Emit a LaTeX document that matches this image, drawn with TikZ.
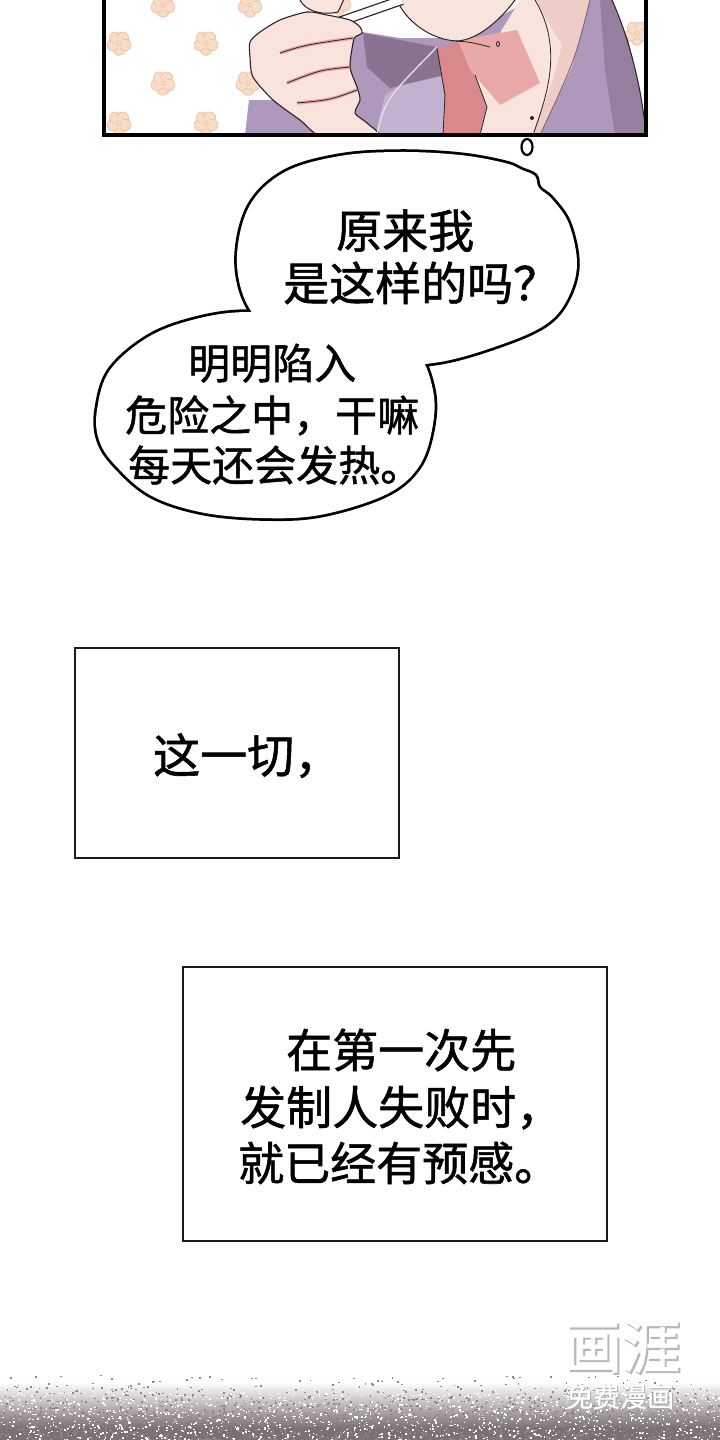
\documentclass[tikz,border=0pt]{standalone}
\usepackage{fontspec}
\newfontfamily\cjk[FakeBold=1.2]{Noto Sans CJK SC}
\newfontfamily\cjkplain[FakeBold=0.8]{Noto Sans CJK SC}
\newfontfamily\cjkfat[FakeBold=3]{Noto Sans CJK SC}
\definecolor{skin}{HTML}{F8E4DC}
\definecolor{skinsh}{HTML}{F0CCC6}
\definecolor{pinkc}{HTML}{D9898B}
\definecolor{pinkl}{HTML}{E9A9A8}
\definecolor{purm}{HTML}{AE98BC}
\definecolor{purd}{HTML}{8A7391}
\definecolor{purl}{HTML}{C3B2CF}
\definecolor{ink}{HTML}{2B2026}
\definecolor{petal}{HTML}{F7DCC8}
\definecolor{petaledge}{HTML}{EBBE9E}
\definecolor{noisegray}{HTML}{7A7075}
\tikzset{
  flowerpic/.pic={
    \foreach \a in {90,162,234,306,18} \filldraw[fill=petal,draw=petaledge,line width=0.6] (\a:6.5) circle (5.8);
    \fill[petal] (0,0) circle (5);
    \draw[petaledge,line width=0.6] (0,0) circle (2.2);
  },
  bubbleline/.style={line width=5.5, draw=black},
  txtbig/.style={anchor=base west, inner sep=0, font=\cjk\fontsize{46}{46}\selectfont},
  txtmid/.style={anchor=base west, inner sep=0, font=\cjk\fontsize{42}{42}\selectfont},
  boxst/.style={draw=black!90, line width=2, inner sep=0, fill=white},
}
\begin{document}
\begin{tikzpicture}[x=1pt,y=-1pt]
\useasboundingbox (0,0) rectangle (720,1440);
\fill[white] (0,0) rectangle (720,1440);

% ---------- top panel ----------
\begin{scope}
\clip (104,-5) rectangle (646,135);
\fill[white] (104,-5) rectangle (646,135);
\foreach \a/\b in {163/5,250/5,119/43,206/43,163/83,248/83,119/123,206/123,339/3,637/33}
  \pic at (\a,\b) {flowerpic};
% sleeve under hand
\fill[purm] (245,135) -- (249,100) -- (273,100) -- (300,120) -- (323,135) -- cycle;
% jacket
\fill[purm] (350,30) -- (400,38) -- (460,38) -- (530,0) -- (612,0) -- (628,40) -- (640,90) -- (646,135) -- (350,135) -- cycle;
\fill[purl] (375,135) -- (385,95) -- (440,60) -- (448,135) -- cycle;
\fill[purd] (363,33) -- (437,47) -- (453,73) -- (390,88) -- (367,67) -- cycle;
\fill[purd!70!purm] (600,0) -- (612,0) -- (628,40) -- (640,90) -- (646,135) -- (615,135) -- (605,70) -- cycle;
% shirt collar and neck
\fill[pinkc] (437,48) -- (460,42) -- (475,75) -- (487,107) -- (480,135) -- (443,135) -- (445,95) -- cycle;
\fill[skin] (460,42) -- (500,33) -- (520,0) -- (590,0) -- (565,60) -- (533,135) -- (480,135) -- (487,107) -- (475,75) -- cycle;
\fill[pinkl] (458,40) -- (517,30) -- (540,83) -- (500,105) -- (470,70) -- cycle;
\fill[skinsh] (535,0) -- (590,0) -- (572,67) -- (540,135) -- (533,135) -- (552,83) -- (562,45) -- cycle;
% chin
\filldraw[fill=skin, draw=ink, line width=1] (397,-3) -- (397,0) .. controls (405,20) and (430,40) .. (457,41) .. controls (480,40) and (505,15) .. (517,-3) -- cycle;
% straw
\draw[ink, line width=10] (330,25) -- (402,0);
\draw[white, line width=7.5] (330,25) -- (402,0);
% hand
\filldraw[fill=skin, draw=ink, line width=1.1] plot[smooth cycle, tension=0.45] coordinates {
  (250,42) (260,32) (280,20) (307,12) (327,15) (350,20) (360,27) (362,33) (355,37) (353,43)
  (350,67) (357,87) (360,100) (355,113) (367,123) (379,137) (323,137) (300,120) (273,100) (253,77) (250,57)};
\filldraw[fill=skin, draw=ink, line width=1] (300,-3) -- (300,0) .. controls (305,10) and (320,16) .. (338,12) -- (345,-3) -- cycle;
\foreach \c in {{(280,53) .. controls (305,45) .. (353,38)},
                {(287,83) .. controls (320,70) .. (350,67)},
                {(297,103) .. controls (330,100) .. (357,90)}} {
  \draw[pinkl, line width=3.5] \c;
  \draw[ink, line width=0.8] \c;
}
% lines
\draw[white!60!purl, line width=1.3] (377,135) .. controls (385,100) .. (437,47);
\draw[ink, line width=0.8] (437,48) -- (445,95) -- (443,135);
\draw[ink, line width=0.8] (475,75) -- (487,107) -- (480,135);
\draw[ink, line width=0.8] (455,41) .. controls (470,42) .. (490,47);
\draw[ink, line width=0.8] (498,44) ellipse (1.5 and 2.5);
\fill[ink] (532,118) circle (2);
\draw[ink, line width=0.8] (535,0) .. controls (565,50) and (545,100) .. (533,135);
\draw[ink!70, line width=0.8] (590,0) .. controls (575,60) .. (540,135);
\draw[ink, line width=1] (612,0) .. controls (630,40) and (642,90) .. (646,135);
\end{scope}
\draw[line width=3.4] (104,-10) rectangle (646,135);

% thought dot
\draw[line width=2.2] (527,147) ellipse (5.5 and 8);

% ---------- speech bubbles ----------
\def\topbub{plot[smooth cycle, tension=0.6] coordinates {
  (237,255) (250,205) (285,172) (340,156) (400,152) (460,155) (505,163) (522,170)
  (535,176) (539,188) (552,199) (569,224) (577,265) (567,300) (545,325) (500,345)
  (440,362) (380,365) (320,355) (270,330) (245,300)}}
\def\botbub{plot[smooth cycle, tension=0.6] coordinates {
  (97,410) (110,370) (150,336) (200,318) (250,312) (310,318) (370,332) (415,350)
  (433,390) (432,430) (418,468) (385,495) (320,515) (260,518) (200,512) (150,495)
  (115,465) (99,440)}}
\draw[bubbleline] \topbub;
\draw[bubbleline] \botbub;
\fill[white] \topbub;
\fill[white] \botbub;

\node[txtbig] (q1) at (336,248) {原来我};
\node[txtbig] (q2) at (283,300.5) {是这样的吗？};
\node[txtmid] (p1) at (188,379) {明明陷入};
\node[txtmid] (p2) at (125,431) {危险之中，干嘛};
\node[txtmid] (p3) at (128,481) {每天还会发热。};

% ---------- caption boxes ----------
\node[boxst, minimum width=324pt, minimum height=210pt] (box1) at (237,753) {};
\node[txtbig, font=\cjk\fontsize{47}{47}\selectfont] (c1) at (153,773) {这一切，};

\node[boxst, minimum width=424pt, minimum height=274pt] (box2) at (395,1104) {};
\node[txtbig] (d1) at (286,1067.5) {在第一次先};
\node[txtbig] (d2) at (240,1124.5) {发制人失败时，};
\node[txtbig] (d3) at (238,1180.5) {就已经有预感。};

% ---------- bottom noise band ----------
\fill[top color=white, bottom color=noisegray] (0,1382) rectangle (720,1428);
\fill[noisegray] (0,1427.5) rectangle (720,1440);
\pgfmathsetseed{42}
\foreach \i in {1,...,1800}{
  \pgfmathsetmacro\xx{720*rnd}
  \pgfmathsetmacro\yy{1372+68*sqrt(rnd)}
  \fill[noisegray!85] (\xx,\yy) rectangle ++(1.8,1.5);
}
\foreach \i in {1,...,1400}{
  \pgfmathsetmacro\xx{720*rnd}
  \pgfmathsetmacro\yy{1392+48*rnd}
  \fill[white] (\xx,\yy) rectangle ++(1.6,1.4);
}

% ---------- watermark ----------
\node[anchor=base west, inner sep=0, text=black!28, font=\cjkfat\fontsize{58}{58}\selectfont] (wm1s) at (565.5,1369.5) {画涯};
\node[anchor=base west, inner sep=0, text=white, font=\cjkplain\fontsize{58}{58}\selectfont] (wm1) at (564,1368) {画涯};
\node[anchor=base west, inner sep=0, text=black!32, font=\cjkfat\fontsize{27}{27}\selectfont] (wm2s) at (566.8,1407.8) {免费漫画};
\node[anchor=base west, inner sep=0, text=white, font=\cjkplain\fontsize{27}{27}\selectfont] (wm2) at (566,1407) {免费漫画};
\end{tikzpicture}
\end{document}
